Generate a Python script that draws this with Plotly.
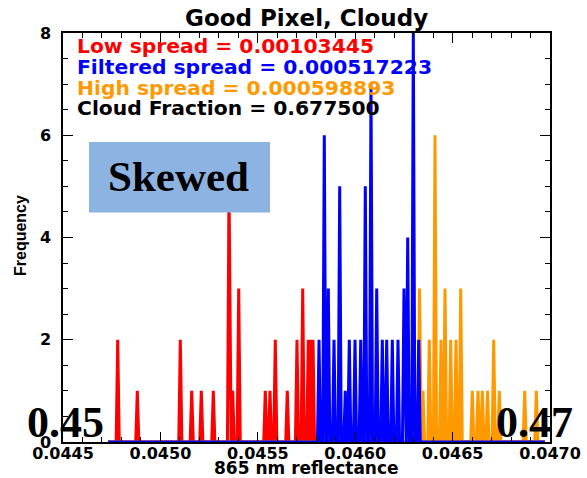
import plotly.graph_objects as go

# Histogram peaks: bin centre (865 nm reflectance) and count per group
low_x = [0.0447808, 0.0448814, 0.0451022, 0.0451607, 0.0452100, 0.0452716,
         0.0453522, 0.0453712, 0.0454020, 0.0455385, 0.0455626, 0.0455898,
         0.0456514, 0.0457012, 0.0457305, 0.0457592, 0.0457731, 0.0457834]
low_n = [2, 1, 2, 1, 1, 1, 5, 1, 3, 1, 1, 2, 1, 2, 3, 2, 2, 2]

filt_x = [0.0458142, 0.0458414, 0.0458619, 0.0458912, 0.0459204, 0.0459492,
          0.0459697, 0.0459990, 0.0460283, 0.0460519, 0.0460811, 0.0461104,
          0.0461391, 0.0461617, 0.0461905, 0.0462197, 0.0462505, 0.0462695,
          0.0462983, 0.0463260]
filt_n = [2, 6, 3, 2, 5, 1, 2, 2, 2, 5, 7, 3, 2, 2, 2, 2, 3, 4, 8, 2]

high_x = [0.0463300, 0.0463480, 0.0463804, 0.0464097, 0.0464405, 0.0464610,
          0.0464902, 0.0465174, 0.0465416, 0.0466011, 0.0466304, 0.0466525,
          0.0466792, 0.0467110, 0.0467397, 0.0468701, 0.0469297]
high_n = [3, 1, 2, 6, 2, 3, 2, 2, 3, 1, 1, 1, 1, 2, 1, 1, 1]

# histogram support and half bin width
hist_start = 0.044731
hist_end = 0.046974
half_bin = 8.0e-6

x_ticks = [0.0445, 0.0450, 0.0455, 0.0460, 0.0465, 0.0470]
x_tick_text = ["0.0445", "0.0450", "0.0455", "0.0460", "0.0465", "0.0470"]
y_ticks = [0, 2, 4, 6, 8]

low_spread = "0.00103445"
filt_spread = "0.000517223"
high_spread = "0.000598893"
cloud_fraction = "0.677500"

RED = "#ff0000"
BLUE = "#0000ff"
ORANGE = "#ff9900"
BOLD = "DejaVu Sans"


def histogram_path(centres, counts):
    """Line through zero-filled bins, peaking at each occupied bin."""
    xs, ys = [hist_start], [0]
    for c, n in sorted(zip(centres, counts)):
        xs += [c - half_bin, c, c + half_bin]
        ys += [0, n, 0]
    xs.append(hist_end)
    ys.append(0)
    return xs, ys


fig = go.Figure()
for cx, cn, col in [(low_x, low_n, RED), (high_x, high_n, ORANGE),
                    (filt_x, filt_n, BLUE)]:
    hx, hy = histogram_path(cx, cn)
    fig.add_trace(go.Scatter(x=hx, y=hy, mode="lines",
                             line=dict(color=col, width=3),
                             hoverinfo="skip", showlegend=False))

W, H = 587, 478
L, R, T, B = 63, 37, 33, 36
pw, ph = W - L - R, H - T - B


def px(xp):
    return (xp - L) / pw


def py(yp):
    return (H - B - yp) / ph


axis_common = dict(showline=True, linecolor="black", linewidth=1.5,
                   mirror="ticks", ticks="inside", ticklen=10,
                   tickwidth=1.2, tickcolor="black", showgrid=False,
                   zeroline=False, automargin=False,
                   tickfont=dict(family=BOLD, size=16, color="black",
                                 weight="bold"))

fig.update_layout(
    width=W, height=H,
    margin=dict(l=L, r=R, t=T, b=B),
    paper_bgcolor="white", plot_bgcolor="white",
    xaxis=dict(range=[0.0445, 0.0470], tickvals=x_ticks,
               ticktext=x_tick_text, ticklabelstandoff=-4,
               minor=dict(ticks="inside", ticklen=5, dtick=0.0001,
                          tick0=0.0445, tickcolor="black", tickwidth=1.2,
                          showgrid=False),
               **axis_common),
    yaxis=dict(range=[0, 8], tickvals=y_ticks, ticklabelstandoff=7,
               minor=dict(ticks="inside", ticklen=5, dtick=0.5,
                          tickcolor="black", tickwidth=1.2, showgrid=False),
               **axis_common),
)

fig.add_shape(type="rect", xref="paper", yref="paper",
              x0=px(89), x1=px(270), y0=py(212.5), y1=py(142),
              fillcolor="#8db3e2", line=dict(width=0), layer="above")

ann = [
    dict(text="Good Pixel, Cloudy", x=px(306), y=py(18), xanchor="center",
         font=dict(family=BOLD, size=23, color="black", weight="bold")),
    dict(text="Low spread = " + low_spread, x=px(76), y=py(46),
         xanchor="left", font=dict(family=BOLD, size=20.3, color=RED,
                                   weight="bold")),
    dict(text="Filtered spread = " + filt_spread, x=px(76), y=py(67),
         xanchor="left", font=dict(family=BOLD, size=20.3, color=BLUE,
                                   weight="bold")),
    dict(text="High spread = " + high_spread, x=px(76), y=py(88),
         xanchor="left", font=dict(family=BOLD, size=20.3, color=ORANGE,
                                   weight="bold")),
    dict(text="Cloud Fraction = " + cloud_fraction, x=px(76), y=py(108),
         xanchor="left", font=dict(family=BOLD, size=20.3, color="black",
                                   weight="bold")),
    dict(text="865 nm reflectance", x=px(306), y=py(468), xanchor="center",
         font=dict(family=BOLD, size=17, color="black", weight="bold")),
    dict(text="Frequency", x=px(20), y=py(236), xanchor="center",
         textangle=-90,
         font=dict(family="Liberation Sans", size=16, color="black",
                   weight="bold")),
    dict(text="Skewed", x=px(178), y=py(177), xanchor="center",
         font=dict(family="Liberation Serif", size=43, color="black",
                   weight="bold")),
    dict(text="0.45", x=px(105), y=py(422), xanchor="right",
         font=dict(family="Liberation Serif", size=44, color="black",
                   weight="bold")),
    dict(text="0.47", x=px(574), y=py(422), xanchor="right",
         font=dict(family="Liberation Serif", size=44, color="black",
                   weight="bold")),
]
for a in ann:
    fig.add_annotation(xref="paper", yref="paper", yanchor="middle",
                       showarrow=False, borderpad=0, **a)

fig.write_html("out.html")
